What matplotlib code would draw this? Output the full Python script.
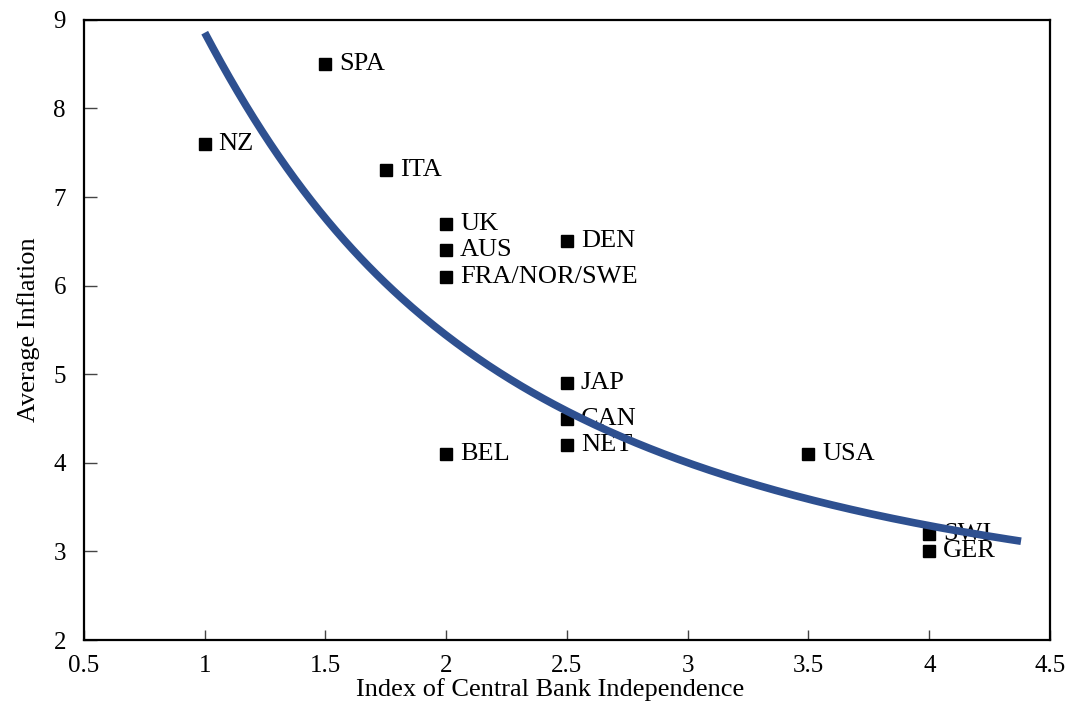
import numpy as np
import matplotlib
matplotlib.use("Agg")
import matplotlib.pyplot as plt

# Country scores: central bank independence index vs. average inflation
countries = ["SPA", "NZ", "ITA", "UK", "AUS", "FRA/NOR/SWE", "DEN",
             "JAP", "CAN", "NET", "BEL", "USA", "SWI", "GER"]
independence = [1.5, 1.0, 1.75, 2.0, 2.0, 2.0, 2.5,
                2.5, 2.5, 2.5, 2.0, 3.5, 4.0, 4.0]
inflation = [8.5, 7.6, 7.3, 6.7, 6.4, 6.1, 6.5,
             4.9, 4.5, 4.2, 4.1, 4.1, 3.2, 3.0]

# Points along the fitted trend curve
trend_x = [1.0, 1.27, 1.475, 1.653, 1.9, 2.0, 2.248, 2.52, 2.8, 3.07,
           3.3, 3.57, 3.84, 4.12, 4.38]
trend_y = [8.80, 7.72, 6.89, 6.21, 5.58, 5.45, 5.01, 4.54, 4.22, 3.95,
           3.73, 3.55, 3.39, 3.22, 3.11]

x_ticks = [0.5, 1, 1.5, 2, 2.5, 3, 3.5, 4, 4.5]
x_tick_labels = ["0.5", "1", "1.5", "2", "2.5", "3", "3.5", "4", "4.5"]
y_ticks = [2, 3, 4, 5, 6, 7, 8, 9]

plt.rcParams["font.family"] = ["Liberation Serif", "DejaVu Serif"]

fig = plt.figure(figsize=(10.71, 7.08), dpi=100)
ax = fig.add_axes([0.0784, 0.096, 0.902, 0.876])

ax.plot(independence, inflation, linestyle="none", marker="s",
        markersize=8.5, color="black", zorder=2)
for name, xv, yv in zip(countries, independence, inflation):
    ax.annotate(name, (xv, yv), xytext=(10, 0), textcoords="offset points",
                va="center", ha="left", fontsize=19, color="black", zorder=2)

# Smooth trend through the sampled points (log-log cubic fit)
coef = np.polyfit(np.log(trend_x), np.log(trend_y), 3)
xs = np.linspace(trend_x[0], trend_x[-1], 300)
ys = np.exp(np.polyval(coef, np.log(xs)))
ax.plot(xs, ys, color="#2E5090", linewidth=5.5, solid_capstyle="butt", zorder=3)

ax.set_xlim(0.5, 4.5)
ax.set_ylim(2, 9)
ax.set_xticks(x_ticks)
ax.set_xticklabels(x_tick_labels)
ax.set_yticks(y_ticks)
ax.tick_params(axis="both", direction="in", labelsize=18, width=1.0, color="#444444")
ax.tick_params(axis="x", length=7, pad=11)
ax.tick_params(axis="y", length=9, pad=13)
for side in ["left", "right", "top", "bottom"]:
    ax.spines[side].set_linewidth(1.6)
    ax.spines[side].set_color("black")

ax.set_xlabel("Index of Central Bank Independence", fontsize=19)
ax.xaxis.set_label_coords(0.483, -0.062, transform=ax.transAxes)
ax.xaxis.label.set_va("top")
ax.set_ylabel("Average Inflation", fontsize=19, labelpad=10)

fig.savefig("out.png", dpi=100)
